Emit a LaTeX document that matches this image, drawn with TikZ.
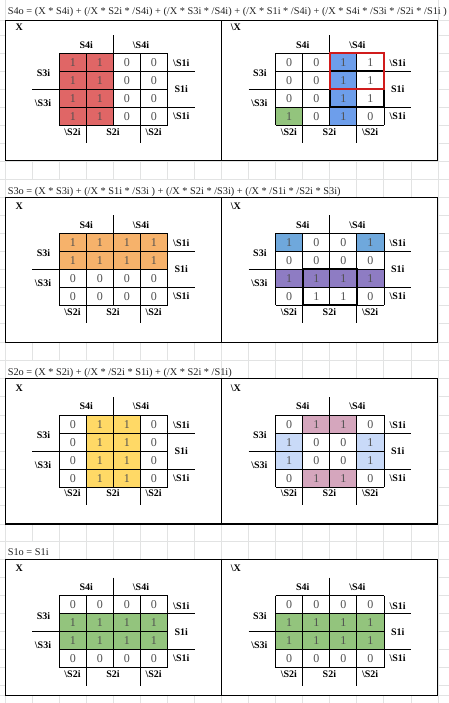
\documentclass[tikz,border=0pt]{standalone}
\usepackage{fontspec}
\setmainfont{Liberation Serif}
\definecolor{gridgray}{HTML}{E2E3E3}
\definecolor{cR}{HTML}{E06666}
\definecolor{cB}{HTML}{6D9EEB}
\definecolor{cG}{HTML}{93C47D}
\definecolor{cO}{HTML}{F6B26B}
\definecolor{cU}{HTML}{6FA8DC}
\definecolor{cP}{HTML}{8E7CC3}
\definecolor{cY}{HTML}{FFD966}
\definecolor{cK}{HTML}{D5A6BD}
\definecolor{cL}{HTML}{C9DAF8}
\definecolor{cW}{HTML}{FFFFFF}
\definecolor{digitgray}{HTML}{505050}
\definecolor{titlegray}{HTML}{222222}
\definecolor{redbox}{HTML}{D01C1C}
\newlength\ttlw
\newcommand\ttlA{S4o = (X * S4i) + (/X * S2i * /S4i) + (/X * S3i * /S4i) + (/X * S1i * /S4i) + (/X * S4i * /S3i * /S2i * /S1i )}
\newcommand\ttlB{S3o = (X * S3i) + (/X * S1i * /S3i ) + (/X * S2i * /S3i) + (/X * /S1i * /S2i * S3i)}
\newcommand\ttlC{S2o = (X * S2i) + (/X * /S2i * S1i) + (/X * S2i * /S1i)}
\newcommand\ttlD{S1o = S1i}
\tikzset{
  gridbg/.style={draw=gridgray, line width=0.9pt},
  framebox/.style={draw=black, line width=1.1pt, fill=white},
  cellb/.style={draw=black, line width=0.75pt},
  thickb/.style={draw=black, line width=1.9pt},
  thickr/.style={draw=redbox, line width=1.9pt},
  lbl/.style={font=\fontsize{10}{12}\bfseries\selectfont, inner sep=0pt, anchor=base},
  dig/.style={font=\fontsize{12}{14}\selectfont, text=digitgray, inner sep=0pt, anchor=base},
}
% one row of a map: #1 x0, #2 row top, #3 list colour/value, #4 name prefix
\newcommand\kmrow[4]{%
  \foreach \cc/\vv [count=\ii] in {#3} {
    \fill[\cc] ({#1+(\ii-1)*27.05},#2) rectangle ++(27.05,18);
    \node[dig] (#4c\ii) at ({#1+(\ii-0.5)*27.05},{#2+13.05}) {\vv};
  }}
% a map: #1 x0, #2 grid top, #3 name, #4-#7 rows
\newcommand\kmap[7]{%
  \kmrow{#1}{#2}{#4}{#3r1}
  \kmrow{#1}{#2+18}{#5}{#3r2}
  \kmrow{#1}{#2+36}{#6}{#3r3}
  \kmrow{#1}{#2+54}{#7}{#3r4}
  \foreach \k in {0,...,4} {
    \draw[cellb] ({#1+\k*27.05},#2) -- ++(0,72);
    \draw[cellb] (#1,{#2+\k*18}) -- ++(108.2,0);
  }
  \draw[cellb] ({#1+54.1},{#2-18}) -- ++(0,18);
  \draw[cellb] ({#1+27.05},{#2+72}) -- ++(0,18);
  \draw[cellb] ({#1+81.15},{#2+72}) -- ++(0,18);
  \draw[cellb] ({#1-27.05},{#2+36}) -- ++(27.05,0);
  \draw[cellb] ({#1+108.2},{#2+18}) -- ++(27.05,0);
  \draw[cellb] ({#1+108.2},{#2+54}) -- ++(27.05,0);
  \node[lbl] (#3s4) at ({#1+27},{#2-5.1}) {S4i};
  \node[lbl] (#3ns4) at ({#1+81.7},{#2-5.1}) {\textbackslash S4i};
  \node[lbl] (#3s3) at ({#1-15.8},{#2+23.4}) {S3i};
  \node[lbl] (#3ns3) at ({#1-16.3},{#2+53.1}) {\textbackslash S3i};
  \node[lbl] (#3ns1a) at ({#1+122},{#2+13.4}) {\textbackslash S1i};
  \node[lbl] (#3s1) at ({#1+122},{#2+39.4}) {S1i};
  \node[lbl] (#3ns1b) at ({#1+122},{#2+66.1}) {\textbackslash S1i};
  \node[lbl] (#3ns2a) at ({#1+13.2},{#2+81.8}) {\textbackslash S2i};
  \node[lbl] (#3s2) at ({#1+53.7},{#2+81.8}) {S2i};
  \node[lbl] (#3ns2b) at ({#1+94.4},{#2+81.8}) {\textbackslash S2i};
}
% a framed block: #1 frame top, #2 frame bottom, #3 X baseline, #4 name
\newcommand\kframe[4]{%
  \draw[framebox] (5.2,#1) rectangle (437.6,#2);
  \draw[framebox] (221.8,#1) -- (221.8,#2);
  \node[lbl] (#4x) at (19.3,#3) {X};
  \node[lbl] (#4nx) at (235.8,#3) {\textbackslash X};
}
% title: #1 row top, #2 row bottom, #3 cover end, #4 baseline, #5 text, #6 name
\newcommand\ktitle[6]{%
  \fill[white] (5.8,{#1+0.6}) rectangle ({#3-0.6},{#2-0.6});
  \node[font=\fontsize{\tsz}{12}\selectfont, text=titlegray, inner sep=0pt, anchor=base west] (#6) at (7.6,#4) {#5};
}
\begin{document}
\settowidth\ttlw{\fontsize{10}{12}\selectfont\ttlA}%
\pgfmathsetmacro\tsz{10*439/\ttlw}%
\begin{tikzpicture}[x=1pt,y=-1pt]
\useasboundingbox (0,0) rectangle (449,703);
\fill[white] (0,0) rectangle (449,703);
% spreadsheet grid
\foreach \k in {0,...,16} \draw[gridbg] ({5.2+\k*27.05},0) -- ({5.2+\k*27.05},703);
\foreach \yy in {20.7,35.7,53.3,71.3,89.3,107.3,125.3,143.3,161.3,179.3,
  197.3,215.3,233.3,251.3,269.3,287.3,305.3,323.3,342.3,360.3,
  378.3,396.6,415,433,451,469,487,505,524,541.6,
  559.3,577.5,595.7,613.7,631.7,649.7,667.7,685.7,695.7}
  \draw[gridbg] (0,\yy) -- (449,\yy);
% titles
\ktitle{-1}{20.7}{438}{14.3}{\ttlA}{t1}
\ktitle{179.3}{197.3}{329.8}{194.2}{\ttlB}{t2}
\ktitle{360.3}{378.3}{221.6}{375.6}{\ttlC}{t3}
\ktitle{541.6}{559.3}{59.3}{555.8}{\ttlD}{t4}
% block 1
\kframe{20.7}{160.7}{31}{b1}
\kmap{59.3}{53.3}{a1}{cR/1,cR/1,cW/0,cW/0}{cR/1,cR/1,cW/0,cW/0}{cR/1,cR/1,cW/0,cW/0}{cR/1,cR/1,cW/0,cW/0}
\kmap{275.7}{53.3}{a2}{cW/0,cW/0,cB/1,cW/1}{cW/0,cW/0,cB/1,cW/1}{cW/0,cW/0,cB/1,cW/1}{cG/1,cW/0,cB/1,cW/0}
\draw[thickb] (329.8,71.3) rectangle (383.9,107.3);
\draw[thickr] (329.8,53.3) rectangle (383.9,89.3);
% block 2
\kframe{197.3}{342.3}{209.6}{b2}
\kmap{59.3}{233.3}{c1}{cO/1,cO/1,cO/1,cO/1}{cO/1,cO/1,cO/1,cO/1}{cW/0,cW/0,cW/0,cW/0}{cW/0,cW/0,cW/0,cW/0}
\kmap{275.7}{233.3}{c2}{cU/1,cW/0,cW/0,cU/1}{cW/0,cW/0,cW/0,cW/0}{cP/1,cP/1,cP/1,cP/1}{cW/0,cW/1,cW/1,cW/0}
\draw[thickb] (302.75,269.3) rectangle (356.85,305.3);
% block 3
\kframe{378.3}{524}{391.2}{b3}
\kmap{59.3}{415}{e1}{cW/0,cY/1,cY/1,cW/0}{cW/0,cY/1,cY/1,cW/0}{cW/0,cY/1,cY/1,cW/0}{cW/0,cY/1,cY/1,cW/0}
\kmap{275.7}{415}{e2}{cW/0,cK/1,cK/1,cW/0}{cL/1,cW/0,cW/0,cL/1}{cL/1,cW/0,cW/0,cL/1}{cW/0,cK/1,cK/1,cW/0}
% block 4
\kframe{559.3}{695.7}{571.2}{b4}
\kmap{59.3}{595.7}{g1}{cW/0,cW/0,cW/0,cW/0}{cG/1,cG/1,cG/1,cG/1}{cG/1,cG/1,cG/1,cG/1}{cW/0,cW/0,cW/0,cW/0}
\kmap{275.7}{595.7}{g2}{cW/0,cW/0,cW/0,cW/0}{cG/1,cG/1,cG/1,cG/1}{cG/1,cG/1,cG/1,cG/1}{cW/0,cW/0,cW/0,cW/0}
\end{tikzpicture}
\end{document}
